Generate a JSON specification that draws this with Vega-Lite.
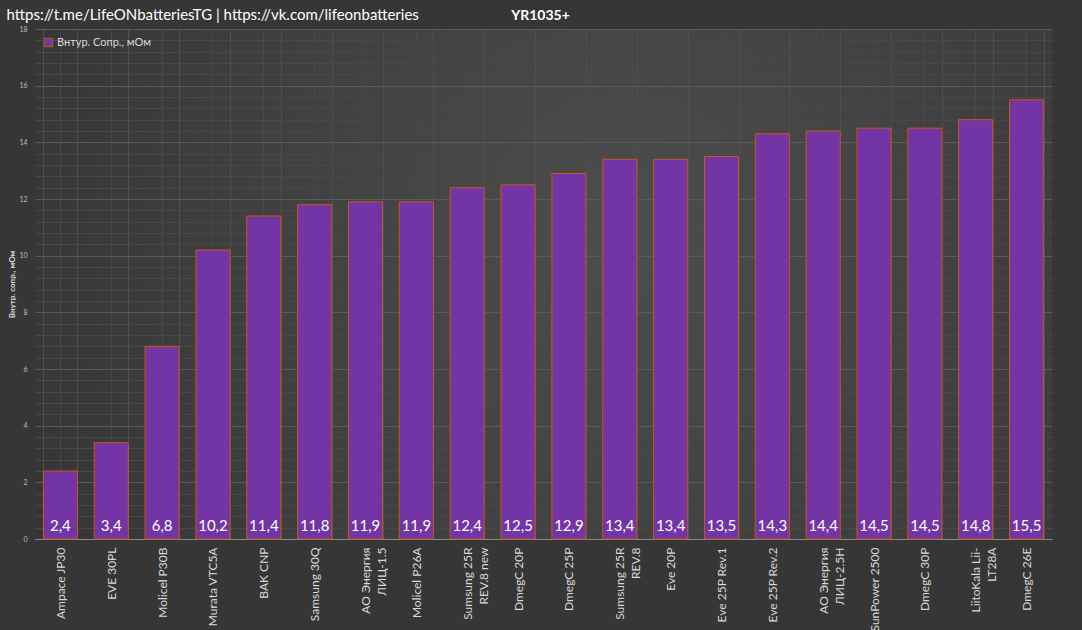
{
  "$schema": "https://vega.github.io/schema/vega-lite/v6.json",
  "width": 1017,
  "height": 510,
  "autosize": {"type": "none"},
  "padding": {"left": 35, "top": 29, "right": 30, "bottom": 91},
  "background": "#363636",
  "config": {
    "locale": {
      "number": {"decimal": ",", "thousands": " ", "grouping": [3], "currency": ["", " ₽"]}
    },
    "font": "Lato",
    "view": {
      "stroke": null,
      "fill": {
        "gradient": "radial",
        "x1": 0.58, "y1": 0.45, "r1": 0,
        "x2": 0.58, "y2": 0.45, "r2": 0.7,
        "stops": [
          {"offset": 0, "color": "#4d4d4d"},
          {"offset": 1, "color": "#333333"}
        ]
      }
    }
  },
  "data": {
    "values": [
      {"name": "Ampace JP30", "value": 2.4},
      {"name": "EVE 30PL", "value": 3.4},
      {"name": "Molicel P30B", "value": 6.8},
      {"name": "Murata VTC5A", "value": 10.2},
      {"name": "BAK CNP", "value": 11.4},
      {"name": "Samsung 30Q", "value": 11.8},
      {"name": "АО Энергия|ЛИЦ-1.5", "value": 11.9},
      {"name": "Molicel P26A", "value": 11.9},
      {"name": "Sumsung 25R|REV.8 new", "value": 12.4},
      {"name": "DmegC 20P", "value": 12.5},
      {"name": "DmegC 25P", "value": 12.9},
      {"name": "Sumsung 25R|REV.8", "value": 13.4},
      {"name": "Eve 20P", "value": 13.4},
      {"name": "Eve 25P Rev.1", "value": 13.5},
      {"name": "Eve 25P Rev.2", "value": 14.3},
      {"name": "АО Энергия|ЛИЦ-2.5H", "value": 14.4},
      {"name": "SunPower 2500", "value": 14.5},
      {"name": "DmegC 30P", "value": 14.5},
      {"name": "LiitoKala Lii-|LT28A", "value": 14.8},
      {"name": "DmegC 26E", "value": 15.5}
    ]
  },
  "resolve": {"axis": {"x": "independent", "y": "independent"}},
  "layer": [
    {
      "mark": {"type": "bar", "stroke": "#c55a11", "strokeWidth": 1},
      "encoding": {
        "x": {
          "field": "name",
          "type": "nominal",
          "sort": null,
          "scale": {"paddingInner": 0.33, "paddingOuter": 0.165},
          "axis": {
            "title": null,
            "labelAngle": -90,
            "labelExpr": "split(datum.label, '|')",
            "labelFontSize": 12,
            "labelColor": "#d9d9d9",
            "labelPadding": 8,
            "labelLineHeight": 16,
            "ticks": false,
            "domainColor": "#8a8a8a",
            "domainWidth": 1,
            "grid": true,
            "tickBand": "extent",
            "gridColor": "#4f4f4f",
            "gridWidth": 1
          }
        },
        "y": {
          "field": "value",
          "type": "quantitative",
          "scale": {"domain": [0, 18], "nice": false},
          "axis": {
            "title": "Внутр. сопр., мОм",
            "titleFontSize": 8,
            "titleFontWeight": "bold",
            "titleColor": "#d9d9d9",
            "titlePadding": 2,
            "values": [0, 0.4, 0.8, 1.2, 1.6, 2, 2.4, 2.8, 3.2, 3.6, 4, 4.4, 4.8, 5.2, 5.6, 6, 6.4, 6.8, 7.2, 7.6, 8, 8.4, 8.8, 9.2, 9.6, 10, 10.4, 10.8, 11.2, 11.6, 12, 12.4, 12.8, 13.2, 13.6, 14, 14.4, 14.8, 15.2, 15.6, 16, 16.4, 16.8, 17.2, 17.6, 18],
            "labelExpr": "datum.value % 2 === 0 ? format(datum.value, 'd') : ''",
            "labelOverlap": false,
            "labelFontSize": 7,
            "labelColor": "#bfbfbf",
            "labelPadding": 8,
            "ticks": false,
            "domain": false,
            "grid": true,
            "gridColor": {
              "condition": {"test": "datum.value % 2 === 0", "value": "#5a5a5a"},
              "value": "#484848"
            },
            "gridWidth": 1
          }
        },
        "color": {
          "datum": "Внтур. Сопр., мОм",
          "type": "nominal",
          "scale": {"range": ["#7334a6"]},
          "legend": {
            "title": null,
            "orient": "none",
            "legendX": 8,
            "legendY": 8,
            "symbolType": "square",
            "symbolSize": 70,
            "symbolFillColor": "#7334a6",
            "symbolStrokeColor": "#c55a11",
            "symbolStrokeWidth": 1,
            "symbolOpacity": 1,
            "labelFontSize": 11,
            "labelColor": "#d9d9d9",
            "labelOffset": 3
          }
        }
      }
    },
    {
      "mark": {"type": "text", "color": "#ffffff", "fontSize": 15, "baseline": "alphabetic", "dy": -8},
      "encoding": {
        "x": {
          "field": "name",
          "type": "nominal",
          "sort": null,
          "axis": {
            "orient": "top",
            "title": "https://t.me/LifeONbatteriesTG | https://vk.com/lifeonbatteries",
            "titleFontSize": 15,
            "titleFontWeight": "normal",
            "titleColor": "#ffffff",
            "titleX": -29,
            "titleY": -10,
            "titleAlign": "left",
            "titleBaseline": "alphabetic",
            "labels": false,
            "ticks": false,
            "domain": false,
            "grid": true,
            "gridColor": "#484848",
            "gridWidth": 1
          }
        },
        "y": {
          "datum": 0,
          "type": "quantitative",
          "axis": {
            "orient": "right",
            "title": "YR1035+",
            "titleAngle": 0,
            "titleFontSize": 14,
            "titleFontWeight": "bold",
            "titleColor": "#ffffff",
            "titleX": -512,
            "titleY": -10,
            "titleAlign": "center",
            "titleBaseline": "alphabetic",
            "labels": false,
            "ticks": false,
            "domain": false,
            "grid": false
          }
        },
        "text": {"field": "value", "type": "quantitative", "format": ".1f"}
      }
    }
  ]
}
